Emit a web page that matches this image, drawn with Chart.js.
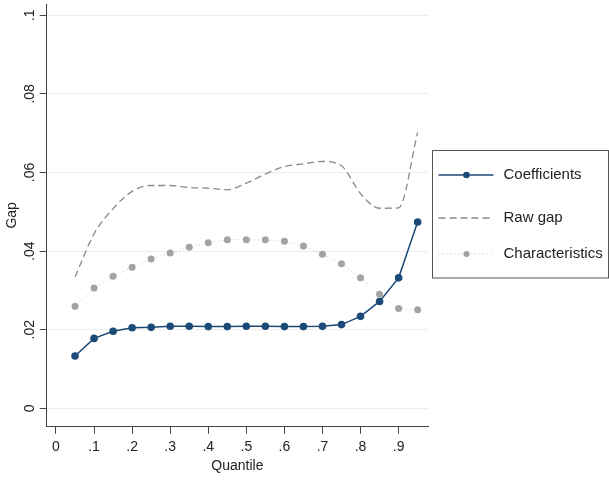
<!DOCTYPE html>
<html>
<head>
<meta charset="utf-8">
<script src="https://cdn.jsdelivr.net/npm/chart.js@4.4.0/dist/chart.umd.min.js"></script>
<style>
  html, body { margin: 0; padding: 0; background: #fff; }
  #wrap { width: 609px; height: 480px; position: relative; }
</style>
</head>
<body>
<div id="wrap"><canvas id="gap-chart"></canvas></div>
<script>
// Values
const quantiles = [0.05, 0.10, 0.15, 0.20, 0.25, 0.30, 0.35, 0.40, 0.45, 0.50,
                   0.55, 0.60, 0.65, 0.70, 0.75, 0.80, 0.85, 0.90, 0.95];
const coefficients = [0.0133, 0.0178, 0.0196, 0.0205, 0.0206, 0.0209, 0.0209, 0.0208, 0.0208, 0.0209,
                      0.0209, 0.0208, 0.0208, 0.0209, 0.0213, 0.0234, 0.0272, 0.0332, 0.0474];
const rawGap = [0.0334, 0.0444, 0.0508, 0.0552, 0.0567, 0.0567, 0.0562, 0.0560, 0.0556, 0.0573,
                0.0596, 0.0615, 0.0622, 0.0628, 0.0617, 0.0546, 0.0509, 0.0510, 0.0702];
const characteristics = [0.0260, 0.0306, 0.0336, 0.0359, 0.0380, 0.0395, 0.0410, 0.0421, 0.0429, 0.0429,
                         0.0429, 0.0425, 0.0413, 0.0392, 0.0368, 0.0332, 0.0290, 0.0254, 0.0251];
const xTicks = [0, 0.1, 0.2, 0.3, 0.4, 0.5, 0.6, 0.7, 0.8, 0.9];
const yTicks = [0, 0.02, 0.04, 0.06, 0.08, 0.1];
const seriesNames = ['Coefficients', 'Raw gap', 'Characteristics'];

const NAVY = '#1c4a78';
const FONT = '"Liberation Sans", Arial, sans-serif';
Chart.defaults.font.family = FONT;
Chart.defaults.color = '#222';

function toPoints(values) {
  return quantiles.map((q, i) => ({ x: q, y: values[i] }));
}

// Stata style labels: ".4" rather than "0.4"
function stataLabel(v) {
  if (Math.abs(v) < 1e-9) return '0';
  return String(+v.toFixed(2)).replace(/^0\./, '.');
}

// y tick labels are turned on their side, like the original
const rotatedYLabels = {
  id: 'rotatedYLabels',
  afterDraw(chart) {
    const ctx = chart.ctx;
    const yScale = chart.scales.y;
    const x = chart.chartArea.left - 17;
    ctx.save();
    ctx.font = '14px ' + FONT;
    ctx.fillStyle = '#222';
    ctx.textAlign = 'center';
    ctx.textBaseline = 'middle';
    yTicks.forEach(v => {
      ctx.save();
      ctx.translate(x, yScale.getPixelForValue(v));
      ctx.rotate(-Math.PI / 2);
      ctx.fillText(stataLabel(v), 0, 0);
      ctx.restore();
    });
    ctx.restore();
  }
};

// Boxed legend to the right of the plot
const boxLegend = {
  id: 'boxLegend',
  afterDraw(chart) {
    const ctx = chart.ctx;
    const left = chart.chartArea.right + 4.5;
    const top = 150.5;
    const right = 608.5;
    const bottom = 278;
    const rows = [top + 24.5, top + 67.5, top + 103.5];
    const ds = chart.data.datasets;

    ctx.save();
    ctx.strokeStyle = '#555';
    ctx.lineWidth = 1;
    ctx.strokeRect(left, top, right - left, bottom - top);

    seriesNames.forEach((name, i) => {
      const d = ds[i];
      const y = rows[i];
      ctx.beginPath();
      ctx.setLineDash(d.borderDash || []);
      ctx.strokeStyle = d.borderColor;
      ctx.lineWidth = d.borderWidth;
      ctx.moveTo(left + 6, y);
      ctx.lineTo(left + 61, y);
      ctx.stroke();
      ctx.setLineDash([]);
      if (d.pointRadius > 0) {
        ctx.beginPath();
        ctx.fillStyle = d.pointBackgroundColor;
        ctx.arc(left + 34, y, d.pointRadius - 0.5, 0, Math.PI * 2);
        ctx.fill();
      }
      ctx.fillStyle = '#222';
      ctx.font = '15px ' + FONT;
      ctx.textAlign = 'left';
      ctx.textBaseline = 'middle';
      ctx.fillText(name, left + 71, y);
    });
    ctx.restore();
  }
};

const ctx = document.getElementById('gap-chart').getContext('2d');
const gapChart = new Chart(ctx, {
  type: 'line',
  data: {
    datasets: [{
      label: seriesNames[0],
      data: toPoints(coefficients),
      borderColor: NAVY,
      backgroundColor: NAVY,
      pointBackgroundColor: NAVY,
      borderWidth: 1.5,
      pointRadius: 3.8,
      pointBorderWidth: 0,
      tension: 0,
      order: 2
    }, {
      label: seriesNames[1],
      data: toPoints(rawGap),
      borderColor: '#8a8a8a',
      borderWidth: 1.3,
      borderDash: [7, 4],
      pointRadius: 0,
      cubicInterpolationMode: 'monotone',
      order: 1
    }, {
      label: seriesNames[2],
      data: toPoints(characteristics),
      borderColor: '#c4c4c4',
      pointBackgroundColor: '#a3a3a3',
      backgroundColor: '#a3a3a3',
      borderWidth: 1,
      borderDash: [1, 3],
      pointRadius: 3.5,
      pointBorderWidth: 0,
      order: 0
    }]
  },
  options: {
    responsive: true,
    maintainAspectRatio: false,
    animation: false,
    layout: { padding: { top: 3, right: 181, left: 0, bottom: 0 } },
    plugins: {
      legend: { display: false },
      tooltip: { enabled: false }
    },
    scales: {
      x: {
        type: 'linear',
        min: -0.0244,
        max: 0.9772,
        afterBuildTicks: scale => { scale.ticks = xTicks.map(v => ({ value: v })); },
        afterFit: scale => { scale.height = 53.3; },
        grid: { drawOnChartArea: false, tickLength: 7, tickColor: '#444', tickWidth: 1 },
        border: { color: '#444', width: 1 },
        ticks: {
          padding: 5,
          color: '#222',
          font: { size: 14 },
          maxRotation: 0,
          autoSkip: false,
          callback: v => stataLabel(v)
        },
        title: { display: true, text: 'Quantile', color: '#222', font: { size: 14 }, padding: { top: 0, bottom: 5 } }
      },
      y: {
        type: 'linear',
        min: -0.00467,
        max: 0.10287,
        afterBuildTicks: scale => { scale.ticks = yTicks.map(v => ({ value: v })); },
        afterFit: scale => { scale.width = 46.7; },
        grid: { color: '#ececec', lineWidth: 1, tickLength: 7, tickColor: '#444', tickWidth: 1 },
        border: { color: '#444', width: 1 },
        ticks: { display: false },
        title: { display: true, text: 'Gap', color: '#222', font: { size: 14 }, padding: { top: 4, bottom: 4 } }
      }
    }
  },
  plugins: [rotatedYLabels, boxLegend]
});
</script>
</body>
</html>
